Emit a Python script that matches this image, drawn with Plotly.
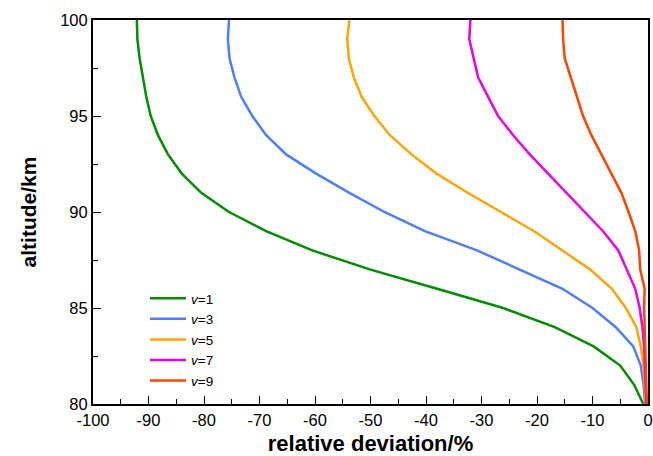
import plotly.graph_objects as go

altitude = [80, 81, 82, 83, 84, 85, 86, 87, 88, 89, 90,
            91, 92, 93, 94, 95, 96, 97, 98, 99, 100]

v1 = [-0.85, -2.5, -5.0, -9.8, -16.8, -26.1, -38.0, -50.0, -60.5, -68.8, -75.5,
      -80.5, -84.0, -86.5, -88.3, -89.6, -90.4, -91.0, -91.6, -92.0, -92.1]
v3 = [-0.5, -0.8, -1.3, -2.65, -5.8, -10.0, -15.4, -23.1, -30.8, -40.2, -47.5,
      -53.8, -59.8, -65.2, -68.8, -71.3, -73.3, -74.5, -75.4, -75.7, -75.5]
v5 = [-0.4, -0.6, -0.8, -1.3, -2.1, -4.0, -6.5, -10.4, -15.4, -20.5, -26.5,
      -32.5, -38.1, -42.6, -46.5, -49.3, -51.6, -53.0, -53.9, -54.2, -53.8]
v7 = [-0.3, -0.4, -0.5, -0.7, -1.0, -1.5, -2.3, -3.85, -5.35, -8.1, -11.4,
      -14.7, -18.0, -21.3, -24.3, -27.0, -28.8, -30.6, -31.4, -32.2, -32.0]
v9 = [-0.2, -0.3, -0.4, -0.5, -0.6, -0.7, -0.6, -1.4, -1.6, -2.3, -3.5,
      -4.8, -6.6, -8.4, -10.2, -11.7, -12.8, -13.9, -15.0, -15.3, -15.4]

series_names = ["<i>v</i>=1", "<i>v</i>=3", "<i>v</i>=5", "<i>v</i>=7", "<i>v</i>=9"]
series_values = [v1, v3, v5, v7, v9]
colors = ["#008C00", "#4D7FFF", "#FFA500", "#E600E6", "#FF4500"]

x_ticks = list(range(-100, 1, 10))
y_ticks = [80, 85, 90, 95, 100]

fig = go.Figure()
for name, vals, c in zip(series_names, series_values, colors):
    fig.add_trace(go.Scatter(x=vals, y=altitude, mode="lines", name=name,
                             line=dict(color=c, width=2.5)))

font_family = "Liberation Sans, Arial, sans-serif"
fig.update_layout(
    width=653, height=456,
    margin=dict(l=93, r=5, t=20, b=52),
    paper_bgcolor="white", plot_bgcolor="white",
    font=dict(family=font_family, color="black"),
    showlegend=True,
    legend=dict(x=0.0937, y=0.315, xanchor="left", yanchor="top",
                bgcolor="rgba(0,0,0,0)", font=dict(size=13.5, family=font_family),
                tracegroupgap=0, itemwidth=36),
)
fig.update_xaxes(
    range=[-100, 0], tickvals=x_ticks, ticktext=[str(t) for t in x_ticks],
    ticks="inside", ticklen=8, tickwidth=1.2, tickcolor="black",
    minor=dict(ticks="inside", ticklen=5, dtick=5, tickwidth=1.2, tickcolor="black"),
    showline=True, linecolor="black", linewidth=2, mirror=True,
    showgrid=False, zeroline=False, automargin=False,
    tickfont=dict(size=16.5),
    title=dict(text="<b>relative deviation/%</b>", font=dict(size=22), standoff=15),
)
fig.update_yaxes(
    range=[80, 100], tickvals=y_ticks, ticktext=[str(t) for t in y_ticks],
    ticks="inside", ticklen=8, tickwidth=1.2, tickcolor="black",
    minor=dict(ticks="inside", ticklen=5, dtick=2.5, tickwidth=1.2, tickcolor="black"),
    showline=True, linecolor="black", linewidth=2, mirror=True,
    showgrid=False, zeroline=False, automargin=False,
    tickfont=dict(size=16.5),
    title=dict(text="<b>altitude/km</b>", font=dict(size=21), standoff=18),
)

fig.write_html("out.html")
